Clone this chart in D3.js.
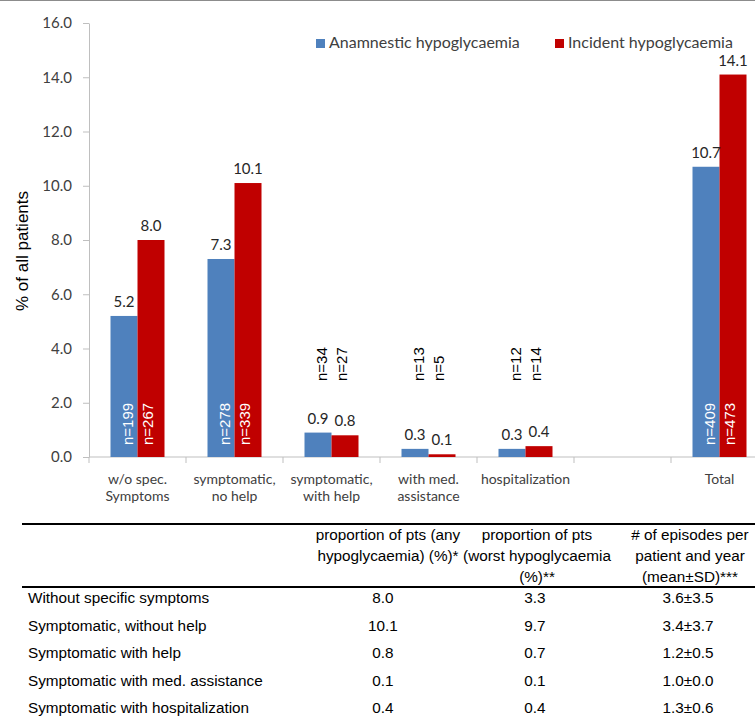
<!DOCTYPE html>
<html>
<head>
<meta charset="utf-8">
<script src="https://cdn.jsdelivr.net/npm/d3@7"></script>
<style>
  html, body { margin: 0; padding: 0; background: #ffffff; }
  svg { display: block; }
</style>
</head>
<body>
<svg id="chart" width="755" height="718"></svg>
<script>
// ---- data ----
const categories = [["w/o spec.", "Symptoms"], ["symptomatic,", "no help"], ["symptomatic,", "with help"], ["with med.", "assistance"], ["hospitalization"], [""], ["Total"]];
const anamnestic = [5.2, 7.3, 0.9, 0.3, 0.3, null, 10.7];
const incident = [8.0, 10.1, 0.8, 0.1, 0.4, null, 14.1];
const nAnamnestic = [199, 278, 34, 13, 12, null, 409];
const nIncident = [267, 339, 27, 5, 14, null, 473];
const yTicks = [0, 2, 4, 6, 8, 10, 12, 14, 16];
const seriesNames = ["Anamnestic hypoglycaemia", "Incident hypoglycaemia"];
const seriesColors = ["#4F81BD", "#C00000"];

const tableHeaders = [
  ["proportion of pts (any", "hypoglycaemia) (%)*"],
  ["proportion of pts", "(worst hypoglycaemia", "(%)**"],
  ["# of episodes per", "patient and year", "(mean±SD)***"]
];
const tableRows = ["Without specific symptoms", "Symptomatic, without help", "Symptomatic with help", "Symptomatic with med. assistance", "Symptomatic with hospitalization"];
const colAnyHypo = ["8.0", "10.1", "0.8", "0.1", "0.4"];
const colWorstHypo = ["3.3", "9.7", "0.7", "0.1", "0.4"];
const colEpisodes = ["3.6±3.5", "3.4±3.7", "1.2±0.5", "1.0±0.0", "1.3±0.6"];

// ---- layout ----
const svg = d3.select("#chart");
const chartFont = "Lato, 'Open Sans', sans-serif";
const arial = "'Liberation Sans', Arial, sans-serif";

svg.append("line").attr("x1", 0).attr("x2", 755).attr("y1", 0.5).attr("y2", 0.5)
  .attr("stroke", "#8c8c8c").attr("stroke-width", 1.2);

const y = d3.scaleLinear().domain([0, 16]).range([457, 23]);
const x = d3.scaleBand().domain(d3.range(categories.length)).range([89, 89 + 7 * 97]).padding(0);
const groupW = 54;
const x1 = d3.scaleBand().domain([0, 1]).range([(x.bandwidth() - groupW) / 2, (x.bandwidth() + groupW) / 2]).padding(0);

// y axis
const yAxis = d3.axisLeft(y).tickValues(yTicks).tickFormat(d3.format(".1f")).tickSize(6).tickSizeOuter(0).tickPadding(11);
const gy = svg.append("g").attr("transform", "translate(89,0)").call(yAxis);
gy.select(".domain").attr("stroke", "#bfbfbf");
gy.selectAll(".tick line").attr("stroke", "#bfbfbf");
gy.selectAll(".tick text").attr("font-family", chartFont).attr("font-size", 15).attr("fill", "#404040");

// y axis title
svg.append("text").attr("transform", "translate(28,251) rotate(-90)")
  .attr("text-anchor", "middle").attr("font-family", arial).attr("font-size", 17).attr("fill", "#000")
  .text("% of all patients");

// x axis line and ticks at band boundaries
const gx = svg.append("g");
gx.append("line").attr("x1", 89).attr("x2", x.range()[1]).attr("y1", y(0)).attr("y2", y(0))
  .attr("stroke", "#bfbfbf");
const bounds = d3.range(categories.length + 1).map(i => i < categories.length ? x(i) : x.range()[1]);
gx.selectAll("line.tk").data(bounds).join("line").attr("class", "tk")
  .attr("x1", d => d).attr("x2", d => d).attr("y1", y(0)).attr("y2", y(0) + 6).attr("stroke", "#bfbfbf");
gx.selectAll("text.cat").data(categories).join("text").attr("class", "cat")
  .attr("x", (d, i) => x(i) + x.bandwidth() / 2).attr("y", 484)
  .attr("text-anchor", "middle").attr("font-family", chartFont).attr("font-size", 14).attr("fill", "#404040")
  .each(function (d) {
    const t = d3.select(this);
    d.forEach((line, k) => t.append("tspan").attr("x", t.attr("x")).attr("dy", k === 0 ? 0 : 17).text(line));
  });

// bars
const seriesVals = [anamnestic, incident];
const seriesN = [nAnamnestic, nIncident];
const barData = [];
categories.forEach((c, i) => {
  [0, 1].forEach(s => {
    if (seriesVals[s][i] != null) barData.push({ i, s, v: seriesVals[s][i], n: seriesN[s][i] });
  });
});

svg.append("g").selectAll("rect").data(barData).join("rect")
  .attr("x", d => x(d.i) + x1(d.s)).attr("width", x1.bandwidth())
  .attr("y", d => y(d.v)).attr("height", d => y(0) - y(d.v))
  .attr("fill", d => seriesColors[d.s]);

// value labels
svg.append("g").selectAll("text").data(barData).join("text")
  .attr("x", d => x(d.i) + x1(d.s) + x1.bandwidth() / 2).attr("y", d => y(d.v) - 9)
  .attr("text-anchor", "middle").attr("font-family", chartFont).attr("font-size", 15).attr("fill", "#262626")
  .text(d => d3.format(".1f")(d.v));

// n labels (rotated)
const groupCenter = i => x(i) + x.bandwidth() / 2;
svg.append("g").selectAll("text").data(barData).join("text")
  .attr("transform", d => {
    const cx = groupCenter(d.i) + (d.s === 0 ? -10 : 10);
    const yStart = d.v > 3 ? y(0) - 12 : y(2.8);
    return `translate(${cx},${yStart}) rotate(-90)`;
  })
  .attr("dy", "0.35em")
  .attr("font-family", arial).attr("font-size", 15)
  .attr("fill", d => d.v > 3 ? "#ffffff" : "#000000")
  .text(d => "n=" + d.n);

// legend
const legend = svg.append("g");
const legendX = [316, 555];
seriesNames.forEach((name, s) => {
  legend.append("rect").attr("x", legendX[s]).attr("y", 39).attr("width", 9).attr("height", 9).attr("fill", seriesColors[s]);
  legend.append("text").attr("x", legendX[s] + 13).attr("y", 48)
    .attr("font-family", chartFont).attr("font-size", 16).attr("fill", "#404040").text(name);
});

// ---- table ----
const table = svg.append("g");
const tFont = 15.3;
table.append("line").attr("x1", 22).attr("x2", 755).attr("y1", 524).attr("y2", 524).attr("stroke", "#000").attr("stroke-width", 2.2);
table.append("line").attr("x1", 22).attr("x2", 755).attr("y1", 587).attr("y2", 587).attr("stroke", "#000").attr("stroke-width", 2.2);

const colCenters = [388, 537, 690];
const valCenters = [383, 535, 688];
tableHeaders.forEach((lines, c) => {
  lines.forEach((l, k) => {
    table.append("text").attr("x", colCenters[c]).attr("y", 540 + k * 21)
      .attr("text-anchor", "middle").attr("font-family", arial).attr("font-size", tFont).attr("fill", "#000").text(l);
  });
});
const rowY = i => 603 + i * 27.5;
tableRows.forEach((r, i) => {
  table.append("text").attr("x", 28).attr("y", rowY(i)).attr("font-family", arial).attr("font-size", tFont).attr("fill", "#000").text(r);
  [colAnyHypo, colWorstHypo, colEpisodes].forEach((col, c) => {
    table.append("text").attr("x", valCenters[c]).attr("y", rowY(i)).attr("text-anchor", "middle")
      .attr("font-family", arial).attr("font-size", tFont).attr("fill", "#000").text(col[i]);
  });
});
</script>
</body>
</html>
